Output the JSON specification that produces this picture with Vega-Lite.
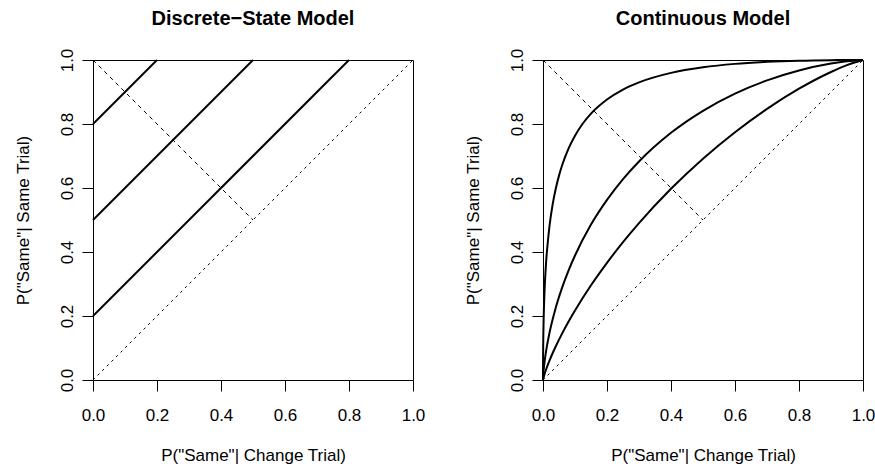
{
  "$schema": "https://vega.github.io/schema/vega-lite/v6.json",
  "padding": {"left": 13, "top": 8, "right": 0, "bottom": 0},
  "background": "white",
  "config": {
    "font": "Liberation Sans",
    "view": {"stroke": "black", "strokeWidth": 1},
    "axis": {
      "grid": false, "domain": false, "ticks": true, "tickColor": "black", "tickSize": 11, "tickWidth": 1,
      "labelFont": "Liberation Sans", "labelFontSize": 17, "labelColor": "black",
      "titleFont": "Liberation Sans", "titleFontSize": 17, "titleFontWeight": "normal", "titleColor": "black",
      "labelFlush": false, "labelOverlap": false
    },
    "axisX": {"labelPadding": 16, "titlePadding": 24},
    "axisY": {"labelAngle": 270, "labelAlign": "center", "labelBaseline": "bottom", "labelPadding": 6, "titlePadding": 26},
    "title": {"font": "Liberation Sans", "fontSize": 20, "fontWeight": "bold", "color": "black", "offset": 19, "anchor": "middle"},
    "concat": {"spacing": 130}
  },
  "bounds": "flush",
  "datasets": {
    "discrete": [
      {"series": "a", "x": 0, "y": 0.8}, {"series": "a", "x": 0.2, "y": 1},
      {"series": "b", "x": 0, "y": 0.5}, {"series": "b", "x": 0.5, "y": 1},
      {"series": "c", "x": 0, "y": 0.2}, {"series": "c", "x": 0.8, "y": 1}
    ],
    "anti": [{"x": 0, "y": 1}, {"x": 0.5, "y": 0.5}],
    "diag": [{"x": 0, "y": 0}, {"x": 1, "y": 1}],
    "roc": [
      {"series": "d2", "x": 0, "y": 0},
      {"series": "d2", "x": 0.00001, "y": 0.0118},
      {"series": "d2", "x": 0.0001, "y": 0.0428},
      {"series": "d2", "x": 0.0005, "y": 0.0984},
      {"series": "d2", "x": 0.001, "y": 0.1379},
      {"series": "d2", "x": 0.002, "y": 0.19},
      {"series": "d2", "x": 0.005, "y": 0.2823},
      {"series": "d2", "x": 0.01, "y": 0.3722},
      {"series": "d2", "x": 0.015, "y": 0.4305},
      {"series": "d2", "x": 0.02, "y": 0.4785},
      {"series": "d2", "x": 0.03, "y": 0.5478},
      {"series": "d2", "x": 0.04, "y": 0.5983},
      {"series": "d2", "x": 0.05, "y": 0.6387},
      {"series": "d2", "x": 0.06, "y": 0.6718},
      {"series": "d2", "x": 0.08, "y": 0.7241},
      {"series": "d2", "x": 0.1, "y": 0.7636},
      {"series": "d2", "x": 0.125, "y": 0.8023},
      {"series": "d2", "x": 0.15, "y": 0.8325},
      {"series": "d2", "x": 0.2, "y": 0.8766},
      {"series": "d2", "x": 0.25, "y": 0.9076},
      {"series": "d2", "x": 0.3, "y": 0.93},
      {"series": "d2", "x": 0.4, "y": 0.9597},
      {"series": "d2", "x": 0.5, "y": 0.9772},
      {"series": "d2", "x": 0.6, "y": 0.9879},
      {"series": "d2", "x": 0.7, "y": 0.9942},
      {"series": "d2", "x": 0.8, "y": 0.9978},
      {"series": "d2", "x": 0.9, "y": 0.99948},
      {"series": "d2", "x": 0.95, "y": 0.99987},
      {"series": "d2", "x": 1, "y": 1},
      {"series": "d1", "x": 0, "y": 0},
      {"series": "d1", "x": 0.0001, "y": 0.00327},
      {"series": "d1", "x": 0.001, "y": 0.0183},
      {"series": "d1", "x": 0.005, "y": 0.0575},
      {"series": "d1", "x": 0.01, "y": 0.0924},
      {"series": "d1", "x": 0.02, "y": 0.146},
      {"series": "d1", "x": 0.04, "y": 0.2263},
      {"series": "d1", "x": 0.06, "y": 0.2894},
      {"series": "d1", "x": 0.08, "y": 0.3427},
      {"series": "d1", "x": 0.1, "y": 0.389},
      {"series": "d1", "x": 0.15, "y": 0.4856},
      {"series": "d1", "x": 0.2, "y": 0.5628},
      {"series": "d1", "x": 0.25, "y": 0.6278},
      {"series": "d1", "x": 0.3, "y": 0.683},
      {"series": "d1", "x": 0.4, "y": 0.7725},
      {"series": "d1", "x": 0.5, "y": 0.8413},
      {"series": "d1", "x": 0.6, "y": 0.8949},
      {"series": "d1", "x": 0.7, "y": 0.9362},
      {"series": "d1", "x": 0.8, "y": 0.9673},
      {"series": "d1", "x": 0.9, "y": 0.9888},
      {"series": "d1", "x": 0.95, "y": 0.9959},
      {"series": "d1", "x": 1, "y": 1},
      {"series": "d05", "x": 0, "y": 0},
      {"series": "d05", "x": 0.001, "y": 0.0048},
      {"series": "d05", "x": 0.005, "y": 0.0189},
      {"series": "d05", "x": 0.01, "y": 0.0339},
      {"series": "d05", "x": 0.02, "y": 0.0601},
      {"series": "d05", "x": 0.04, "y": 0.1055},
      {"series": "d05", "x": 0.06, "y": 0.1457},
      {"series": "d05", "x": 0.08, "y": 0.1827},
      {"series": "d05", "x": 0.1, "y": 0.2171},
      {"series": "d05", "x": 0.15, "y": 0.296},
      {"series": "d05", "x": 0.2, "y": 0.3662},
      {"series": "d05", "x": 0.25, "y": 0.4309},
      {"series": "d05", "x": 0.3, "y": 0.4904},
      {"series": "d05", "x": 0.4, "y": 0.5975},
      {"series": "d05", "x": 0.5, "y": 0.6915},
      {"series": "d05", "x": 0.6, "y": 0.7743},
      {"series": "d05", "x": 0.7, "y": 0.8471},
      {"series": "d05", "x": 0.8, "y": 0.9102},
      {"series": "d05", "x": 0.9, "y": 0.9626},
      {"series": "d05", "x": 0.95, "y": 0.984},
      {"series": "d05", "x": 1, "y": 1}
    ]
  },
  "hconcat": [
    {
      "title": "Discrete−State Model",
      "width": 320, "height": 320,
      "encoding": {
        "x": {"field": "x", "type": "quantitative", "scale": {"domain": [0, 1], "nice": false, "zero": false}, "title": "P(\"Same\"| Change Trial)", "axis": {"values": [0, 0.2, 0.4, 0.6, 0.8, 1], "format": ".1f"}},
        "y": {"field": "y", "type": "quantitative", "scale": {"domain": [0, 1], "nice": false, "zero": false}, "title": "P(\"Same\"| Same Trial)", "axis": {"values": [0, 0.2, 0.4, 0.6, 0.8, 1], "format": ".1f"}}
      },
      "layer": [
        {"data": {"name": "diag"}, "mark": {"type": "line", "color": "black", "strokeWidth": 1, "strokeDash": [2.5, 4]}},
        {"data": {"name": "anti"}, "mark": {"type": "line", "color": "black", "strokeWidth": 1, "strokeDash": [4, 4]}},
        {"data": {"name": "discrete"}, "mark": {"type": "line", "color": "black", "strokeWidth": 2}, "encoding": {"detail": {"field": "series"}}}
      ]
    },
    {
      "title": "Continuous Model",
      "width": 320, "height": 320,
      "encoding": {
        "x": {"field": "x", "type": "quantitative", "scale": {"domain": [0, 1], "nice": false, "zero": false}, "title": "P(\"Same\"| Change Trial)", "axis": {"values": [0, 0.2, 0.4, 0.6, 0.8, 1], "format": ".1f"}},
        "y": {"field": "y", "type": "quantitative", "scale": {"domain": [0, 1], "nice": false, "zero": false}, "title": "P(\"Same\"| Same Trial)", "axis": {"values": [0, 0.2, 0.4, 0.6, 0.8, 1], "format": ".1f"}}
      },
      "layer": [
        {"data": {"name": "diag"}, "mark": {"type": "line", "color": "black", "strokeWidth": 1, "strokeDash": [2.5, 4]}},
        {"data": {"name": "anti"}, "mark": {"type": "line", "color": "black", "strokeWidth": 1, "strokeDash": [4, 4]}},
        {"data": {"name": "roc"}, "mark": {"type": "line", "color": "black", "strokeWidth": 2, "interpolate": "monotone"}, "encoding": {"detail": {"field": "series"}}}
      ]
    }
  ]
}
